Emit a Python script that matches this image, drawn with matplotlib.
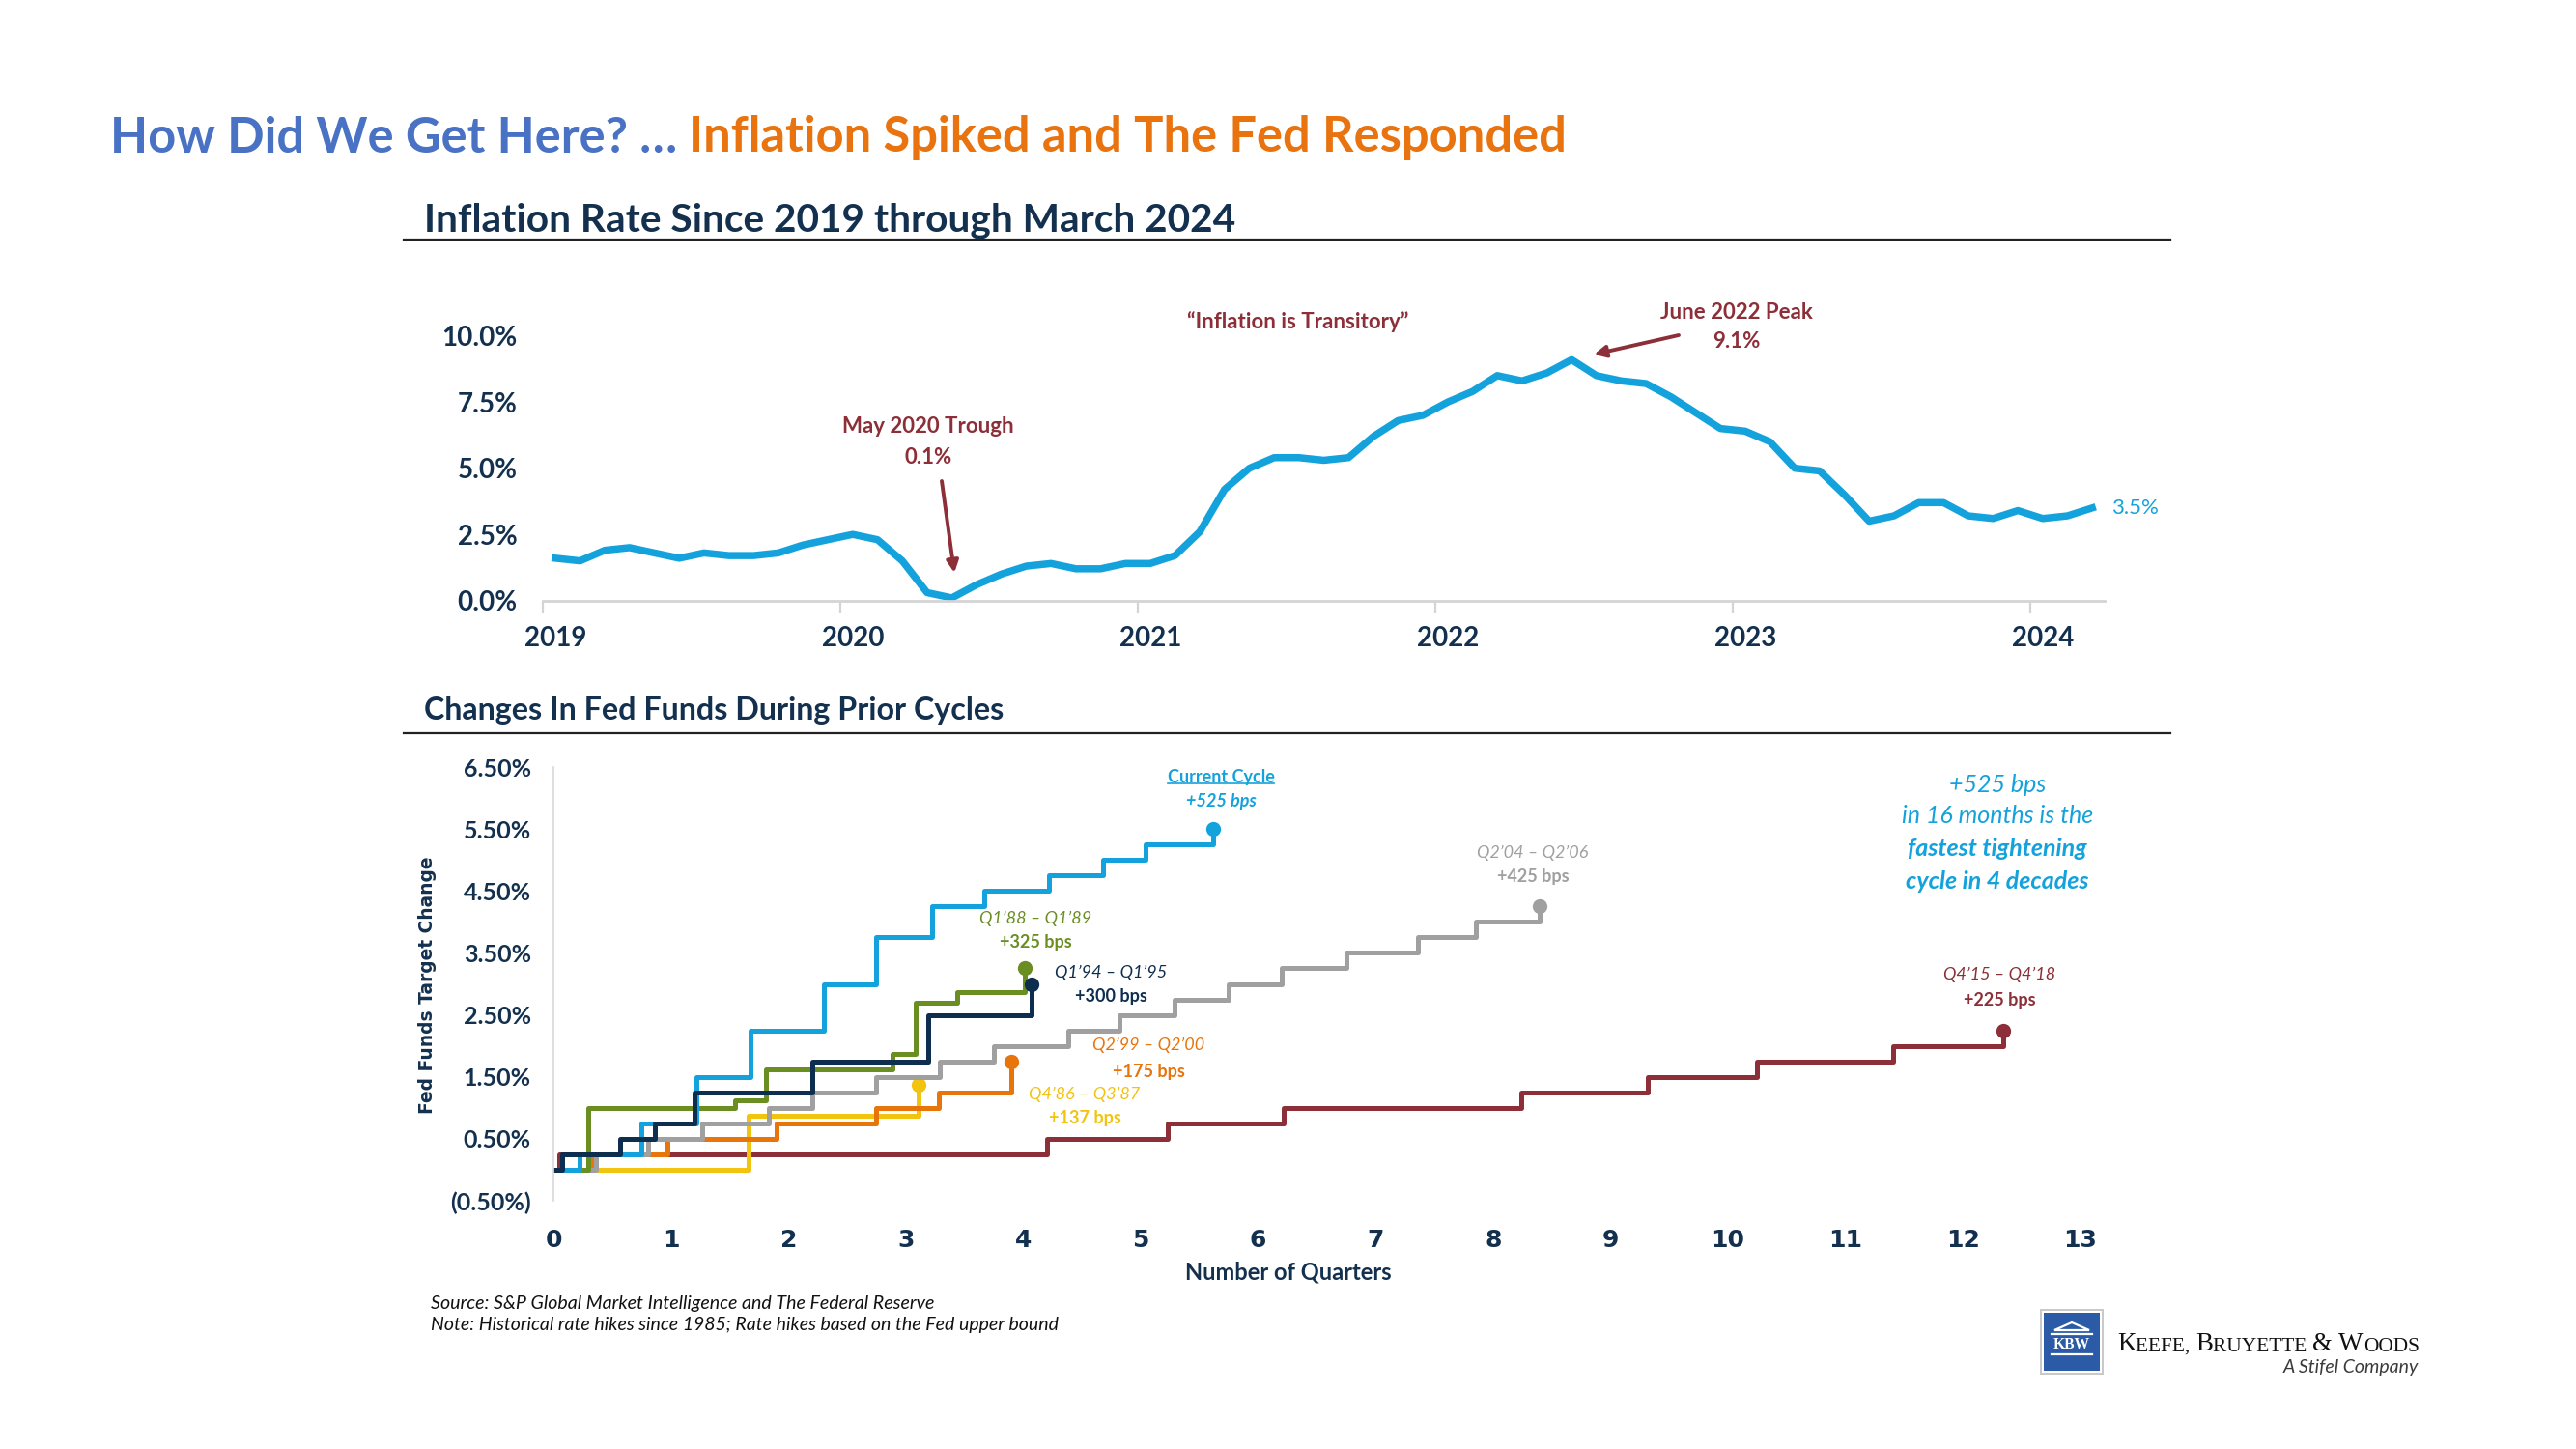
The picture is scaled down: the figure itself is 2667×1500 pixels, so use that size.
import matplotlib
matplotlib.use('Agg')
import matplotlib.pyplot as plt
from matplotlib.lines import Line2D
from matplotlib.patches import Rectangle, Polygon

plt.rcParams['font.family'] = ['Lato', 'DejaVu Sans']

# ---------------- data ----------------
cpi_year_labels = ['2019', '2020', '2021', '2022', '2023', '2024']
cpi_yoy = [1.6, 1.5, 1.9, 2.0, 1.8, 1.6, 1.8, 1.7, 1.7, 1.8, 2.1, 2.3,
           2.5, 2.3, 1.5, 0.3, 0.1, 0.6, 1.0, 1.3, 1.4, 1.2, 1.2, 1.4,
           1.4, 1.7, 2.6, 4.2, 5.0, 5.4, 5.4, 5.3, 5.4, 6.2, 6.8, 7.0,
           7.5, 7.9, 8.5, 8.3, 8.6, 9.1, 8.5, 8.3, 8.2, 7.7, 7.1, 6.5,
           6.4, 6.0, 5.0, 4.9, 4.0, 3.0, 3.2, 3.7, 3.7, 3.2, 3.1, 3.4,
           3.1, 3.2, 3.5]
cpi_yticks = [0.0, 2.5, 5.0, 7.5, 10.0]
cpi_ytick_labels = ['0.0%', '2.5%', '5.0%', '7.5%', '10.0%']

# Fed funds cycles: quarters since first hike, cumulative change (%)
maroon_q = [0, 0.05, 4.20, 5.23, 6.22, 8.24, 9.32, 10.25, 11.41, 12.34]
maroon_v = [0, 0.25, 0.50, 0.75, 1.00, 1.25, 1.50, 1.75, 2.00, 2.25]
yellow_q = [0, 1.66, 3.11]
yellow_v = [0, 0.875, 1.375]
orange_q = [0, 0.33, 0.97, 1.90, 2.75, 3.28, 3.90]
orange_v = [0, 0.25, 0.50, 0.75, 1.00, 1.25, 1.75]
grey_q = [0, 0.36, 0.81, 1.27, 1.83, 2.20, 2.75, 3.29, 3.75, 4.38, 4.82,
          5.29, 5.75, 6.20, 6.75, 7.36, 7.85, 8.40]
grey_v = [0, 0.25, 0.50, 0.75, 1.00, 1.25, 1.50, 1.75, 2.00, 2.25, 2.50,
          2.75, 3.00, 3.25, 3.50, 3.75, 4.00, 4.25]
green_q = [0, 0.30, 1.55, 1.81, 2.89, 3.08, 3.44, 4.01]
green_v = [0, 1.00, 1.125, 1.625, 1.875, 2.69, 2.875, 3.25]
current_q = [0, 0.22, 0.75, 1.22, 1.68, 2.30, 2.75, 3.22, 3.67, 4.22, 4.68, 5.04, 5.62]
current_v = [0, 0.25, 0.75, 1.50, 2.25, 3.00, 3.75, 4.25, 4.50, 4.75, 5.00, 5.25, 5.50]
navy_q = [0, 0.07, 0.57, 0.86, 1.20, 2.20, 3.19, 4.07]
navy_v = [0, 0.25, 0.50, 0.75, 1.25, 1.75, 2.50, 3.00]

fed_xticks = [0, 1, 2, 3, 4, 5, 6, 7, 8, 9, 10, 11, 12, 13]
fed_yticks = [-0.5, 0.5, 1.5, 2.5, 3.5, 4.5, 5.5, 6.5]
fed_ytick_labels = ['(0.50%)', '0.50%', '1.50%', '2.50%', '3.50%', '4.50%', '5.50%', '6.50%']

# ---------------- style ----------------
W, H = 2667, 1500
C_LBLUE = '#14A2DC'
C_NAVY = '#0E2E50'
C_GREEN = '#6B8E23'
C_GREY = '#A0A0A0'
C_ORANGE = '#E8740C'
C_YELLOW = '#F2C30F'
C_MAROON = '#8C2F38'
C_HEAD = '#13304F'
C_TBLUE = '#4A72C4'
C_TORANGE = '#E8730F'


def fx(x):
    return x / W


def fy(y):
    return 1 - y / H


fig = plt.figure(figsize=(W / 200, H / 200), dpi=200)
fig.patch.set_facecolor('white')

# ---------------- titles ----------------
t1 = fig.text(fx(114), fy(143), 'How Did We Get Here? \u2026 ', color=C_TBLUE,
              fontsize=16, fontweight='bold', va='center', ha='left')
t2 = fig.add_artist(matplotlib.text.Annotation(
    'Inflation Spiked and The Fed Responded', xy=(1, 0), xycoords=t1,
    va='bottom', ha='left', color=C_TORANGE, fontsize=16, fontweight='bold'))

s1 = fig.text(fx(439), fy(228), 'Inflation Rate Since 2019 through March 2024',
              color=C_HEAD, fontsize=12, fontweight='bold', va='center', ha='left')
s2 = fig.text(fx(439), fy(735), 'Changes In Fed Funds During Prior Cycles',
              color=C_HEAD, fontsize=12, fontweight='bold', va='center', ha='left')
for yy in (248, 759):
    fig.add_artist(Line2D([fx(418), fx(2247)], [fy(yy), fy(yy)],
                          transform=fig.transFigure, color='#222222', lw=0.8))

# ---------------- top chart ----------------
ax1 = fig.add_axes([fx(562), fy(621.7), (2179 - 562) / W, 274 / H])
ax1.plot(range(len(cpi_yoy)), cpi_yoy, color=C_LBLUE, lw=2.7,
         solid_joinstyle='round', clip_on=False)
ax1.set_xlim(-0.5, 62.5)
ax1.set_ylim(0, 10)
for sp in ('top', 'right', 'left'):
    ax1.spines[sp].set_visible(False)
ax1.spines['bottom'].set_color('#D4D4D4')
ax1.spines['bottom'].set_linewidth(1.0)
ax1.set_yticks(cpi_yticks)
ax1.set_yticklabels(cpi_ytick_labels)
ax1.set_xticks([12 * i for i in range(len(cpi_year_labels))])
ax1.set_xticklabels(cpi_year_labels)
ax1.set_xticks([12 * i - 0.5 for i in range(len(cpi_year_labels))], minor=True)
ax1.tick_params(axis='both', which='major', length=0, labelsize=10,
                labelcolor=C_HEAD)
ax1.tick_params(axis='y', pad=9.5)
ax1.tick_params(axis='x', which='major', pad=9.5)
ax1.tick_params(axis='x', which='minor', length=4.5, width=0.8, color='#D4D4D4')
for lab in ax1.get_xticklabels() + ax1.get_yticklabels():
    lab.set_fontweight('bold')

fig.text(fx(1344), fy(333), '\u201cInflation is Transitory\u201d', color=C_MAROON,
         fontsize=8, fontweight='bold', ha='center', va='center')
fig.text(fx(961), fy(442), 'May 2020 Trough', color=C_MAROON, fontsize=8,
         fontweight='bold', ha='center', va='center')
fig.text(fx(961), fy(473), '0.1%', color=C_MAROON, fontsize=8,
         fontweight='bold', ha='center', va='center')
fig.text(fx(1798), fy(323), 'June 2022 Peak', color=C_MAROON, fontsize=8,
         fontweight='bold', ha='center', va='center')
fig.text(fx(1798), fy(354), '9.1%', color=C_MAROON, fontsize=8,
         fontweight='bold', ha='center', va='center')
arrow_kw = dict(arrowstyle='-|>', color=C_MAROON, lw=1.4, mutation_scale=9,
                shrinkA=0, shrinkB=0)
ax1.annotate('', xy=(16.1, 1.05), xytext=(fx(975), fy(498)),
             textcoords='figure fraction', arrowprops=arrow_kw,
             annotation_clip=False)
ax1.annotate('', xy=(41.9, 9.3), xytext=(fx(1738), fy(347)),
             textcoords='figure fraction', arrowprops=arrow_kw,
             annotation_clip=False)
ax1.annotate('3.5%', xy=(len(cpi_yoy) - 1, cpi_yoy[-1]), xytext=(7, 0),
             textcoords='offset points', color=C_LBLUE, fontsize=8,
             ha='left', va='center', annotation_clip=False)

# ---------------- bottom chart ----------------
ax2 = fig.add_axes([fx(573), fy(1243), (2214.6 - 573) / W, 449 / H])
cycles = [
    (maroon_q, maroon_v, C_MAROON),
    (yellow_q, yellow_v, C_YELLOW),
    (orange_q, orange_v, C_ORANGE),
    (grey_q, grey_v, C_GREY),
    (green_q, green_v, C_GREEN),
    (current_q, current_v, C_LBLUE),
    (navy_q, navy_v, C_NAVY),
]
for q, v, c in cycles:
    ax2.step(q, v, where='post', color=c, lw=1.8, solid_joinstyle='round',
             solid_capstyle='butt')
    ax2.plot([q[-1]], [v[-1]], 'o', color=c, ms=5.5, mew=0)
ax2.set_xlim(0, 13.5)
ax2.set_ylim(-0.5, 6.5)
for sp in ('top', 'right', 'bottom'):
    ax2.spines[sp].set_visible(False)
ax2.spines['left'].set_color('#D9D9D9')
ax2.spines['left'].set_linewidth(0.6)
ax2.set_yticks(fed_yticks)
ax2.set_yticklabels(fed_ytick_labels)
ax2.set_xticks(fed_xticks)
ax2.set_xticklabels([str(t) for t in fed_xticks])
ax2.tick_params(axis='both', length=0, labelcolor=C_HEAD)
ax2.tick_params(axis='y', labelsize=9, pad=8.3)
ax2.tick_params(axis='x', pad=10.5)
for lab in ax2.get_yticklabels():
    lab.set_fontweight('bold')
for lab in ax2.get_xticklabels():
    lab.set_fontfamily('DejaVu Sans')
    lab.set_fontweight('bold')
    lab.set_fontsize(9)

fig.text(fx(1334), fy(1317), 'Number of Quarters', color=C_HEAD, fontsize=8.5,
         fontweight='bold', ha='center', va='center')
fig.text(fx(442), fy(1020), 'Fed Funds Target Change', color=C_HEAD,
         fontsize=6.7, fontweight='bold', family='DejaVu Sans', rotation=90,
         ha='center', va='center')

ann = 6.5
cc = fig.text(fx(1264), fy(805), 'Current Cycle', color=C_LBLUE, fontsize=ann,
              fontweight='bold', ha='center', va='center')
fig.text(fx(1264), fy(830), '+525 bps', color=C_LBLUE, fontsize=ann,
         fontweight='bold', style='italic', ha='center', va='center')
labels = [
    (1072, 951, 976, 'Q1\u201988 \u2013 Q1\u201989', '+325 bps', C_GREEN),
    (1150, 1007, 1032, 'Q1\u201994 \u2013 Q1\u201995', '+300 bps', C_NAVY),
    (1189, 1082, 1109, 'Q2\u201999 \u2013 Q2\u201900', '+175 bps', C_ORANGE),
    (1123, 1133, 1158, 'Q4\u201986 \u2013 Q3\u201987', '+137 bps', C_YELLOW),
    (1587, 883, 908, 'Q2\u201904 \u2013 Q2\u201906', '+425 bps', C_GREY),
    (2070, 1009, 1036, 'Q4\u201915 \u2013 Q4\u201918', '+225 bps', C_MAROON),
]
for x, ya, yb, a, b, c in labels:
    fig.text(fx(x), fy(ya), a, color=c, fontsize=ann, style='italic',
             ha='center', va='center')
    fig.text(fx(x), fy(yb), b, color=c, fontsize=ann, fontweight='bold',
             ha='center', va='center')

note = [('+525 bps', 813, 'normal'), ('in 16 months is the', 845, 'normal'),
        ('fastest tightening', 879, 'bold'), ('cycle in 4 decades', 912, 'bold')]
for s, y, wgt in note:
    fig.text(fx(2068), fy(y), s, color=C_LBLUE, fontsize=9, style='italic',
             fontweight=wgt, ha='center', va='center')

# ---------------- footnotes ----------------
f1 = fig.text(fx(446), fy(1349), 'Source: S&P Global Market Intelligence and The Federal Reserve',
              color='#111111', fontsize=6.3, style='italic', ha='left', va='center')
f2 = fig.text(fx(446), fy(1371), 'Note: Historical rate hikes since 1985; Rate hikes based on the Fed upper bound',
              color='#111111', fontsize=6.3, style='italic', ha='left', va='center')


# ---------------- logo ----------------
def prect(x0, y0, x1, y1, **kw):
    r = Rectangle((fx(x0), fy(y1)), (x1 - x0) / W, (y1 - y0) / H,
                  transform=fig.transFigure, **kw)
    fig.add_artist(r)


prect(2111.5, 1355, 2177.5, 1422.5, facecolor='#C9C9C9', edgecolor='none')
prect(2113.5, 1357, 2175.5, 1420.5, facecolor='white', edgecolor='none')
prect(2115.5, 1359, 2173.5, 1418.5, facecolor='#2B5BA6', edgecolor='none')
fig.add_artist(Polygon([(fx(2127), fy(1377)), (fx(2145), fy(1369)), (fx(2163), fy(1377))],
                       closed=True, transform=fig.transFigure, facecolor='none',
                       edgecolor='white', lw=0.8))
for yy in (1380.5, 1402):
    fig.add_artist(Line2D([fx(2124), fx(2166)], [fy(yy), fy(yy)],
                          transform=fig.transFigure, color='white', lw=0.8))
fig.text(fx(2145), fy(1391.5), 'KBW', color='white', fontsize=5.6,
         fontweight='bold', family='Liberation Serif', ha='center', va='center')

parts = [('K', 8.6), ('EEFE, ', 6.8), ('B', 8.6), ('RUYETTE ', 6.8), ('& ', 8.6),
         ('W', 8.6), ('OODS', 6.8)]
prev = fig.text(fx(2192), fy(1398), parts[0][0], family='Liberation Serif',
                fontsize=parts[0][1], color='#111111', ha='left', va='baseline')
logo_parts = [prev]
for s, sz in parts[1:]:
    a = matplotlib.text.Annotation(s, xy=(1, 0), xycoords=prev, va='bottom',
                                   ha='left', family='Liberation Serif',
                                   fontsize=sz, color='#111111')
    fig.add_artist(a)
    logo_parts.append(a)
    prev = a
stifel = fig.text(fx(2504), fy(1415), 'A Stifel Company', color='#3A3A3A',
                  fontsize=6, style='italic', ha='right', va='center')


# ---------------- fit widths ----------------
def fit(texts, target):
    fig.canvas.draw()
    r = fig.canvas.get_renderer()
    bbs = [t.get_window_extent(r) for t in texts]
    w = max(b.x1 for b in bbs) - min(b.x0 for b in bbs)
    k = target / w
    for t in texts:
        t.set_fontsize(t.get_fontsize() * k)


fit([t1, t2], 1513)
fit([s1], 841)
fit([s2], 600)
fit([f1], 523)
fit([f2], 648)
fit(logo_parts, 313)
fit(logo_parts, 313)
fit([stifel], 140)

# underline for "Current Cycle"
fig.canvas.draw()
bb = cc.get_window_extent(fig.canvas.get_renderer())
yl = bb.y0 + 0.12 * bb.height
fig.add_artist(Line2D([bb.x0 / W, bb.x1 / W], [yl / H, yl / H],
                      transform=fig.transFigure, color=C_LBLUE, lw=0.6))

fig.savefig('out.png', dpi=200, facecolor='white')
